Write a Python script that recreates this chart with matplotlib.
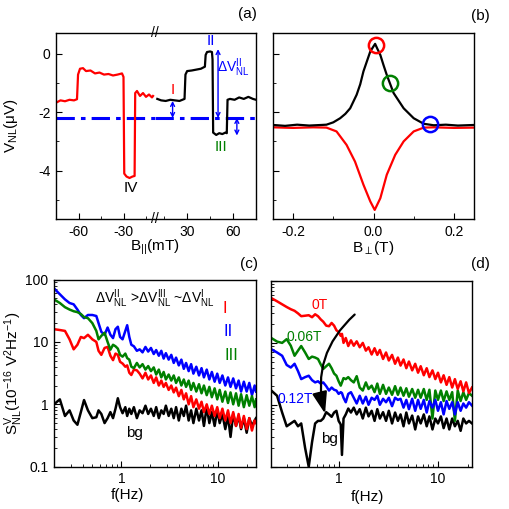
import matplotlib
matplotlib.use('Agg')
import matplotlib.pyplot as plt
import numpy as np
from matplotlib.ticker import FuncFormatter

plt.rcParams['font.family'] = ['Liberation Sans', 'DejaVu Sans']
plt.rcParams['mathtext.fontset'] = 'custom'
plt.rcParams['mathtext.rm'] = 'Liberation Sans'
plt.rcParams['mathtext.it'] = 'Liberation Sans:italic'
plt.rcParams['font.size'] = 10
plt.rcParams['axes.unicode_minus'] = False

# (a) V_NL vs B_parallel, two sweeps
b_red = [-75, -72, -69, -66, -63, -61, -60.3, -59, -57, -55, -52, -49, -46, -43, -40, -37, -34, -31, -30,
         -29.5, -28, -26, -24, -22.6, -22.2, -21, -19, -17, -15, -13, -11, -10.3]
v_red = [-1.68, -1.6, -1.63, -1.58, -1.6, -1.56, -0.72, -0.52, -0.5, -0.6, -0.58, -0.68, -0.65, -0.72, -0.7,
         -0.75, -0.72, -0.68, -0.8, -4.1, -4.2, -4.25, -4.2, -4.18, -1.35, -1.28, -1.45, -1.35, -1.48, -1.4, -1.5, -1.45]
b_blk = [10.5, 13, 16, 19, 22, 25, 28.3, 28.9, 30, 33, 36, 39, 41.6, 42.1, 43, 45, 46.2, 46.6, 47, 49, 51, 53,
         55, 55.9, 56.4, 58, 61, 64, 67, 70, 73, 75]
v_blk = [-1.55, -1.6, -1.62, -1.58, -1.6, -1.62, -1.55, -0.72, -0.6, -0.58, -0.55, -0.52, -0.45, -0.05, 0.05,
         0.07, 0.05, -0.2, -2.7, -2.78, -2.72, -2.75, -2.7, -2.72, -1.58, -1.55, -1.58, -1.5, -1.55, -1.48, -1.55, -1.58]
v_ref = -2.2

# (b) V_NL vs B_perp
bp_blk = [-0.25, -0.22, -0.19, -0.16, -0.13, -0.117, -0.10, -0.083, -0.07, -0.058, -0.042, -0.033, -0.025,
          -0.016, -0.008, 0.004, 0.01, 0.017, 0.025, 0.033, 0.05, 0.075, 0.10, 0.125, 0.15, 0.18, 0.21, 0.25]
vp_blk = [-2.44, -2.47, -2.43, -2.46, -2.44, -2.43, -2.35, -2.21, -2.06, -1.87, -1.41, -1.05, -0.61, -0.25,
          0.07, 0.33, 0.15, -0.05, -0.4, -0.73, -1.35, -1.87, -2.21, -2.40, -2.45, -2.43, -2.46, -2.44]
bp_red = [-0.25, -0.2, -0.15, -0.117, -0.092, -0.067, -0.046, -0.025, -0.008, 0.003, 0.017, 0.033, 0.054,
          0.075, 0.1, 0.125, 0.15, 0.2, 0.25]
vp_red = [-2.52, -2.54, -2.52, -2.53, -2.66, -3.12, -3.69, -4.48, -5.05, -5.34, -4.94, -4.14, -3.46,
          -3.0, -2.66, -2.53, -2.52, -2.54, -2.53]
mark_b = [0.005, 0.04, 0.14]
mark_v = [0.3, -1.0, -2.4]
mark_c = ['red', 'green', 'blue']

# (c) noise spectra for states I, II, III and background
f_c = [0.20, 0.23, 0.26, 0.29, 0.32, 0.35, 0.38, 0.41, 0.45, 0.50,
       0.55, 0.58, 0.62, 0.67, 0.72, 0.77, 0.82, 0.87, 0.92, 0.97,
       1.03, 1.10, 1.15, 1.21, 1.27, 1.35, 1.45, 1.55, 1.66, 1.78,
       1.90, 2.03, 2.17, 2.30, 2.45, 2.60, 2.75, 2.90, 3.10, 3.30,
       3.50, 3.70, 3.95, 4.20, 4.45, 4.70, 5.00, 5.30, 5.60, 6.00,
       6.40, 6.80, 7.20, 7.70, 8.20, 8.70, 9.30, 9.90, 10.5, 11.2,
       12.0, 12.8, 13.6, 14.5, 15.5, 16.5, 17.5, 18.7, 20.0, 21.3,
       22.7, 24.2, 25.0]
s_II = [72, 58, 48, 42, 40, 33, 27, 24, 27, 27,
        26, 20, 14.5, 13, 17, 13, 11.5, 16, 17.5, 12,
        11, 15, 18.5, 12, 9, 8.5, 7.2, 7.6, 6.8, 8.3,
        7, 8, 6.4, 7.4, 6, 7.2, 5.4, 6.6, 5.2, 6.2,
        4.6, 5.6, 4.2, 5.2, 3.7, 4.6, 3.4, 4.4, 3.1, 4.0,
        2.9, 3.8, 2.7, 3.6, 2.5, 3.3, 2.3, 3.1, 2.2, 2.9,
        2.0, 2.7, 1.9, 2.6, 1.8, 2.4, 1.6, 2.3, 1.6, 2.2,
        1.4, 2.0, 1.6]
s_III = [48, 42, 36, 33, 31, 30, 28, 25, 24, 20,
         15, 11, 12.5, 14, 10, 7.5, 9, 8.5, 7.8, 6.2,
         5.8, 6.5, 5.5, 5.2, 4.0, 3.8, 4.6, 3.9, 4.4, 3.6,
         4.1, 3.4, 3.9, 3.0, 3.6, 2.7, 3.3, 2.5, 3.0, 2.4,
         2.9, 2.2, 2.7, 2.0, 2.5, 1.9, 2.4, 1.7, 2.2, 1.6,
         2.1, 1.5, 2.0, 1.4, 1.9, 1.3, 1.8, 1.2, 1.7, 1.1,
         1.6, 1.05, 1.55, 1.0, 1.5, 0.95, 1.45, 0.9, 1.4, 0.95,
         1.35, 0.9, 1.2]
s_I = [16, 15.5, 15, 11, 7.6, 9, 12, 11.5, 13, 11,
       10, 7.2, 6.2, 8, 8.3, 6, 5.1, 6.5, 6.2, 4.8,
       4.5, 4.0, 4.2, 3.2, 2.95, 3.6, 3.5, 3.1, 2.6, 3.2,
       2.5, 2.9, 2.2, 2.7, 2.0, 2.4, 1.9, 2.2, 1.7, 2.0,
       1.55, 1.85, 1.35, 1.7, 1.2, 1.5, 1.0, 1.35, 0.9, 1.2,
       0.85, 1.1, 0.75, 1.0, 0.7, 0.95, 0.65, 0.9, 0.6, 0.85,
       0.55, 0.8, 0.5, 0.75, 0.45, 0.7, 0.42, 0.65, 0.4, 0.6,
       0.38, 0.55, 0.5]
s_bg_c = [1.0, 1.2, 0.65, 0.8, 0.55, 0.47, 0.75, 1.17, 0.8, 0.6,
          0.62, 0.8, 0.7, 0.5, 0.6, 0.75, 0.6, 0.85, 1.25, 0.9,
          0.72, 0.9, 0.65, 0.85, 0.7, 0.9, 0.6, 0.8, 0.72, 0.95,
          0.7, 0.85, 0.65, 0.9, 0.6, 0.8, 0.7, 0.95, 0.65, 0.85,
          0.6, 0.9, 0.55, 0.85, 0.65, 0.95, 0.55, 0.8, 0.5, 0.85,
          0.55, 0.8, 0.45, 0.9, 0.5, 0.75, 0.45, 0.8, 0.5, 0.7,
          0.4, 0.65, 0.3, 0.7, 0.45, 0.65, 0.4, 0.6, 0.35, 0.6,
          0.45, 0.55, 0.6]

# (d) noise spectra at different B_perp
f_d = [0.21, 0.24, 0.27, 0.30, 0.33, 0.36, 0.39, 0.42, 0.46, 0.50,
       0.54, 0.58, 0.62, 0.66, 0.70, 0.75, 0.80, 0.85, 0.90, 0.95,
       1.00, 1.05, 1.08, 1.12, 1.18, 1.25, 1.33, 1.42, 1.52, 1.63,
       1.75, 1.88, 2.0, 2.15, 2.3, 2.45, 2.6, 2.8, 3.0, 3.2,
       3.45, 3.7, 3.95, 4.2, 4.5, 4.8, 5.1, 5.5, 5.9, 6.3,
       6.7, 7.2, 7.7, 8.2, 8.8, 9.4, 10.0, 10.7, 11.4, 12.2,
       13.0, 13.9, 14.8, 15.8, 16.9, 18.0, 19.2, 20.5, 22.0]
s_0T = [53, 47, 42, 38, 35, 33, 30, 27, 27.5, 28,
        26, 29, 27, 24, 22, 19, 18.6, 21, 19, 16,
        15, 13, 14, 10, 12, 8.9, 11, 9, 10.6, 8.5,
        10, 7.5, 8.5, 6.5, 8.2, 6.4, 7.7, 5.5, 7, 5.2,
        6.4, 4.6, 5.8, 4.3, 5.4, 3.9, 5, 3.6, 4.6, 3.3,
        4.2, 3.0, 3.9, 2.8, 3.6, 2.6, 3.3, 2.3, 3.0, 2.1,
        2.8, 1.9, 2.6, 1.8, 2.4, 1.65, 2.3, 1.55, 1.9]
s_006T = [12, 10.5, 10, 11.5, 9, 6.2, 7.5, 8.9, 7, 5.5,
          6, 5.8, 5.5, 4.5, 3.8, 4.2, 4.6, 3.9, 3.2, 2.95,
          2.4, 2.04, 2.3, 2.7, 2.6, 2.8, 2.5, 2.3, 2.9, 1.9,
          1.7, 2.3, 1.8, 2.04, 1.6, 2.2, 1.5, 2.1, 1.5, 1.9,
          1.45, 2.0, 1.45, 1.9, 1.4, 1.85, 1.35, 1.8, 1.3, 1.75,
          1.3, 1.8, 1.2, 1.75, 0.6, 1.7, 1.2, 1.7, 1.15, 1.65,
          1.2, 1.6, 0.55, 1.7, 1.15, 1.6, 1.2, 1.55, 1.4]
s_012T = [7.9, 7, 6.2, 4.4, 4.0, 4.6, 3.5, 2.6, 2.8, 2.95,
          2.5, 2.3, 2.4, 2.2, 2.3, 2.0, 1.7, 1.9, 1.75, 1.7,
          1.5, 1.6, 1.55, 1.3, 1.1, 1.5, 1.6, 1.3, 1.05, 1.4,
          1.05, 1.35, 1.0, 1.3, 1.2, 1.4, 1.0, 1.25, 1.1, 1.3,
          0.95, 1.3, 1.2, 1.25, 0.9, 1.2, 0.85, 1.25, 0.8, 1.2,
          0.86, 1.2, 0.75, 1.15, 0.9, 1.2, 0.8, 1.1, 0.7, 1.15,
          0.86, 1.1, 0.7, 1.1, 0.8, 1.05, 0.9, 1.1, 0.97]
s_bg_d = [1.7, 1.4, 0.75, 0.45, 0.5, 0.55, 0.45, 0.5, 0.2, 0.1,
          0.25, 0.5, 0.55, 0.55, 0.6, 0.76, 0.7, 0.64, 0.75, 0.8,
          0.55, 0.48, 0.155, 0.6, 0.7, 0.87, 0.75, 0.9, 0.7, 0.85,
          0.6, 0.9, 0.65, 0.8, 0.55, 0.85, 0.6, 0.76, 0.55, 0.8,
          0.5, 0.75, 0.55, 0.7, 0.45, 0.75, 0.5, 0.67, 0.4, 0.65,
          0.5, 0.7, 0.45, 0.65, 0.4, 0.6, 0.5, 0.65, 0.42, 0.6,
          0.4, 0.6, 0.45, 0.55, 0.38, 0.6, 0.5, 0.55, 0.5]

W = 509.0


def box(l, t, r, b):
    return [l / W, 1 - b / W, (r - l) / W, (b - t) / W]


def style(ax):
    ax.tick_params(which='both', direction='in', top=False, right=False, labelsize=10)
    ax.tick_params(which='major', length=4, pad=4)
    ax.tick_params(which='minor', length=2.5)
    for s in ax.spines.values():
        s.set_linewidth(1.0)


fig = plt.figure(figsize=(5.09, 5.09), dpi=100)

# ---- (a) broken x axis
ylim_a = (-5.65, 0.7)
a1 = fig.add_axes(box(56, 33, 155, 219))
a2 = fig.add_axes(box(155, 33, 256, 219))
for ax in (a1, a2):
    style(ax)
    ax.set_ylim(*ylim_a)
    ax.axhline(v_ref, color='blue', lw=2.2, ls=(0, (6, 2, 1.5, 2)))
a1.plot(b_red, v_red, color='red', lw=1.6)
a2.plot(b_blk, v_blk, color='black', lw=1.6)
a1.set_xlim(-75, -9)
a2.set_xlim(9, 75)
a1.spines['right'].set_visible(False)
a2.spines['left'].set_visible(False)
a2.tick_params(axis='y', which='both', left=False, labelleft=False)
a1.set_xticks([-60, -30])
a1.set_xticks([-45, -15], minor=True)
a2.set_xticks([30, 60])
a2.set_xticks([15, 45], minor=True)
a1.set_yticks([0, -2, -4])
a1.set_yticks([-1, -3, -5], minor=True)
a1.set_ylabel(r'V$_{\mathrm{NL}}$($\mathrm{\mu}$V)', fontsize=11)
a1.yaxis.set_label_coords((20 - 56) / 99.0, 0.5)
fig.text(155 / W, 1 - 247 / W, r'B$_{||}$(mT)', ha='center', va='center', fontsize=11)
for yy in (33, 219):
    fig.text(155 / W, 1 - yy / W, '//', ha='center', va='center', fontsize=10)

arrow = dict(arrowstyle='<->', color='blue', lw=1, shrinkA=0, shrinkB=0,
             mutation_scale=7)
a2.annotate('', xy=(20.5, -1.62), xytext=(20.5, v_ref), arrowprops=arrow)
a2.annotate('', xy=(50.2, 0.15), xytext=(50.2, v_ref), arrowprops=arrow)
a2.annotate('', xy=(62.5, v_ref), xytext=(62.5, -2.8), arrowprops=arrow)
a2.text(20.5, -1.25, 'I', color='red', ha='center', va='center', fontsize=11)
a2.text(45.3, 0.42, 'II', color='blue', ha='center', va='center', fontsize=11)
a2.text(52, -3.2, 'III', color='green', ha='center', va='center', fontsize=11)
a2.text(60.5, -0.5, r'$\Delta$V$^{\mathrm{II}}_{\mathrm{NL}}$', color='blue', ha='center', va='center', fontsize=10)
a1.text(-25.4, -4.6, 'IV', color='black', ha='center', va='center', fontsize=11)
fig.text(247 / W, 1 - 14 / W, '(a)', ha='center', va='center', fontsize=11)

# ---- (b)
b = fig.add_axes(box(273, 33, 474, 219))
style(b)
b.plot(bp_red, vp_red, color='red', lw=1.6)
b.plot(bp_blk, vp_blk, color='black', lw=1.6)
for x, y, c in zip(mark_b, mark_v, mark_c):
    b.plot(x, y, 'o', ms=11, mfc='none', mec=c, mew=1.8)
b.set_xlim(-0.25, 0.25)
b.set_ylim(*ylim_a)
b.set_xticks([-0.2, 0.0, 0.2])
b.set_xticks([-0.1, 0.1], minor=True)
b.xaxis.set_major_formatter(FuncFormatter(lambda v, p: '%.1f' % v))
b.set_yticks([0, -2, -4])
b.set_yticks([-1, -3, -5], minor=True)
b.tick_params(axis='y', labelleft=False)
fig.text(373 / W, 1 - 248 / W, r'B$_{\perp}$(T)', ha='center', va='center', fontsize=11)
fig.text(480 / W, 1 - 16 / W, '(b)', ha='center', va='center', fontsize=11)

# ---- (c)
logfmt = FuncFormatter(lambda v, p: ('%g' % v))
c = fig.add_axes(box(54, 279.5, 256, 466.7))
style(c)
c.plot(f_c, s_bg_c, color='black', lw=1.8)
c.plot(f_c, s_II, color='blue', lw=1.8)
c.plot(f_c, s_I, color='red', lw=1.8)
c.plot(f_c, s_III, color='green', lw=1.8)
c.set_xscale('log')
c.set_yscale('log')
c.set_xlim(0.2, 25)
c.set_ylim(0.1, 100)
c.xaxis.set_major_formatter(logfmt)
c.yaxis.set_major_formatter(logfmt)
c.set_ylabel(r'S$^{\mathrm{V}}_{\mathrm{NL}}$(10$^{-16}$ V$^{2}$Hz$^{-1}$)', fontsize=11)
c.yaxis.set_label_coords((25 - 54) / 202.0, 0.5)
c.text(0.5, 0.9, r'$\Delta$V$^{\mathrm{II}}_{\mathrm{NL}}$ >$\Delta$V$^{\mathrm{III}}_{\mathrm{NL}}$ ~$\Delta$V$^{\mathrm{I}}_{\mathrm{NL}}$',
       transform=c.transAxes, ha='center', va='center', fontsize=10)
c.text(0.845, 0.845, 'I', color='red', transform=c.transAxes, ha='center', va='center', fontsize=12)
c.text(0.86, 0.72, 'II', color='blue', transform=c.transAxes, ha='center', va='center', fontsize=12)
c.text(0.88, 0.595, 'III', color='green', transform=c.transAxes, ha='center', va='center', fontsize=12)
c.text(0.4, 0.18, 'bg', color='black', transform=c.transAxes, ha='center', va='center', fontsize=11)
fig.text(127 / W, 1 - 495 / W, 'f(Hz)', ha='center', va='center', fontsize=11)
fig.text(249 / W, 1 - 264 / W, '(c)', ha='center', va='center', fontsize=11)

# ---- (d)
d = fig.add_axes(box(271.3, 281, 472, 466.7))
style(d)
d.plot(f_d, s_bg_d, color='black', lw=1.8)
d.plot(f_d, s_006T, color='green', lw=1.8)
d.plot(f_d, s_012T, color='blue', lw=1.8)
d.plot(f_d, s_0T, color='red', lw=1.8)
d.set_xscale('log')
d.set_yscale('log')
d.set_xlim(0.21, 22)
d.set_ylim(0.1, 100)
d.xaxis.set_major_formatter(logfmt)
d.tick_params(axis='y', which='both', labelleft=False)
d.text(0.65, 41, '0T', color='red', ha='center', va='center', fontsize=10)
d.text(0.45, 12.5, '0.06T', color='green', ha='center', va='center', fontsize=10)
d.text(0.37, 1.25, '0.12T', color='blue', ha='center', va='center', fontsize=10)
d.text(0.8, 0.28, 'bg', color='black', ha='center', va='center', fontsize=11)
d.annotate('', xy=(0.73, 0.72), xytext=(1.45, 28.7),
           arrowprops=dict(arrowstyle='-|>,head_width=0.45,head_length=1.3', color='black',
                           lw=1.6, connectionstyle='arc3,rad=0.3', shrinkA=0, shrinkB=0))
fig.text(367 / W, 1 - 497 / W, 'f(Hz)', ha='center', va='center', fontsize=11)
fig.text(480 / W, 1 - 264 / W, '(d)', ha='center', va='center', fontsize=11)

plt.savefig('out.png', dpi=100)
